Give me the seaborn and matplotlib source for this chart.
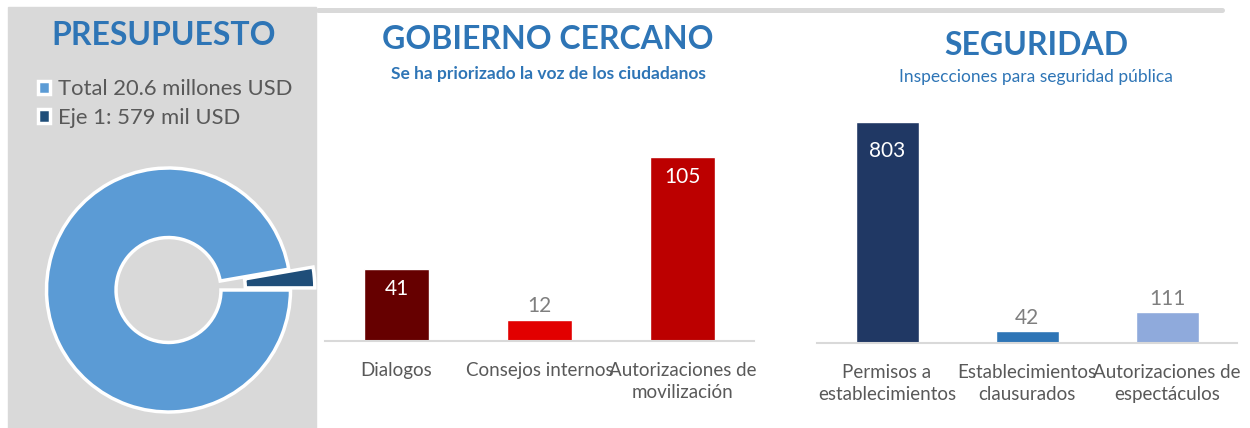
import matplotlib
matplotlib.use("Agg")
import matplotlib.pyplot as plt
import seaborn as sns
from matplotlib.patches import Rectangle
from matplotlib.lines import Line2D

# === data ===
budget_labels = ["Total 20.6 millones USD", "Eje 1: 579 mil USD"]
budget_values = [20.6, 0.579]          # millones USD
budget_colors = ["#5b9bd5", "#1f4e79"]

gob_cats = ["Dialogos", "Consejos internos", "Autorizaciones de\nmovilización"]
gob_vals = [41, 12, 105]
gob_colors = ["#660000", "#e20000", "#bc0000"]

seg_cats = ["Permisos a\nestablecimientos", "Establecimientos\nclausurados",
            "Autorizaciones de\nespectáculos"]
seg_vals = [803, 42, 111]
seg_colors = ["#203864", "#2e75b6", "#8faadc"]

BLUE = "#2e75b6"
GREY_TXT = "#595959"
GREY_LBL = "#7f7f7f"
PANEL = "#d9d9d9"

sns.set_theme(style="white")
plt.rcParams["font.family"] = ["Lato", "DejaVu Sans"]

W, H = 1250, 428
fig = plt.figure(figsize=(W / 100, H / 100), dpi=100)


def box(left, top, right, bottom):
    # pixel box -> figure fraction rect
    return [left / W, 1 - bottom / H, (right - left) / W, (bottom - top) / H]


# grey background of the budget panel and the top rule
fig.add_artist(Rectangle((8 / W, 0), 308 / W, 421 / H, transform=fig.transFigure,
                         color=PANEL, zorder=-5))
fig.add_artist(Line2D([318 / W, 1222 / W], [1 - 9.5 / H, 1 - 9.5 / H],
                      transform=fig.transFigure, color=PANEL, lw=3.6, zorder=-5))

# === donut ===
ax_d = fig.add_axes(box(18.5, 140, 318.5, 440))
ax_d.set_facecolor("none")
eje_share = budget_values[1] / sum(budget_values)
wedges, _ = ax_d.pie(budget_values, colors=budget_colors, explode=[0, 0.2],
                     startangle=360 * eje_share,
                     wedgeprops=dict(width=0.57, edgecolor="white", linewidth=2.5))
lim = 150 / 122
ax_d.set_xlim(-lim, lim)
ax_d.set_ylim(-lim, lim)
ax_d.set_aspect("equal")
ax_d.axis("off")

fig.text(164 / W, 1 - 45 / H, "PRESUPUESTO", ha="center", va="baseline",
         fontsize=23, fontweight="bold", color=BLUE)
fig.legend(wedges, budget_labels, loc="upper left", bbox_to_anchor=(38 / W, 1 - 79 / H),
           frameon=False, fontsize=15.8, labelcolor=GREY_TXT, handlelength=0.55,
           handleheight=0.55, handletextpad=0.35, labelspacing=0.4,
           borderpad=0, borderaxespad=0)


# === bar panels ===
def bar_panel(rect, cats, vals, colors, ymax, inside_off, title, subtitle,
              cx, title_y, sub_y, sub_bold):
    ax = fig.add_axes(rect)
    sns.barplot(x=cats, y=vals, hue=cats, palette=colors, saturation=1,
                width=0.45, legend=False, ax=ax)
    ax.set_xlim(-0.5, len(cats) - 0.5)
    ax.set_ylim(0, ymax)
    ax.set_yticks([])
    ax.set_xlabel("")
    ax.set_ylabel("")
    for s in ["top", "left", "right"]:
        ax.spines[s].set_visible(False)
    ax.spines["bottom"].set_color(PANEL)
    ax.spines["bottom"].set_linewidth(1.5)
    ax.tick_params(axis="x", length=0, pad=15, labelsize=13.5, labelcolor=GREY_TXT)
    for lbl in ax.get_xticklabels():
        lbl.set_linespacing(1.35)
    top = max(vals)
    for bar, v in zip(ax.patches, vals):
        x = bar.get_x() + bar.get_width() / 2
        if v > 0.3 * top:
            ax.annotate(str(v), (x, bar.get_height()), xytext=(0, inside_off),
                        textcoords="offset points", ha="center", va="center",
                        fontsize=15, color="white")
        else:
            ax.annotate(str(v), (x, bar.get_height()), xytext=(0, 10),
                        textcoords="offset points", ha="center", va="center",
                        fontsize=15, color=GREY_LBL)
    fig.text(cx / W, 1 - title_y / H, title, ha="center", va="baseline",
             fontsize=23, fontweight="bold", color=BLUE)
    fig.text(cx / W, 1 - sub_y / H, subtitle, ha="center", va="baseline",
             fontsize=12.5, fontweight="bold" if sub_bold else "normal", color=BLUE)
    return ax


bar_panel(box(325, 130, 754, 341), gob_cats, gob_vals, gob_colors, 120.4, -14.5,
          "GOBIERNO CERCANO", "Se ha priorizado la voz de los ciudadanos",
          548, 49, 79, True)
bar_panel(box(817, 110, 1237, 343), seg_cats, seg_vals, seg_colors, 847, -20.5,
          "SEGURIDAD", "Inspecciones para seguridad pública",
          1036, 55, 82, False)

fig.savefig("out.png", dpi=100)
